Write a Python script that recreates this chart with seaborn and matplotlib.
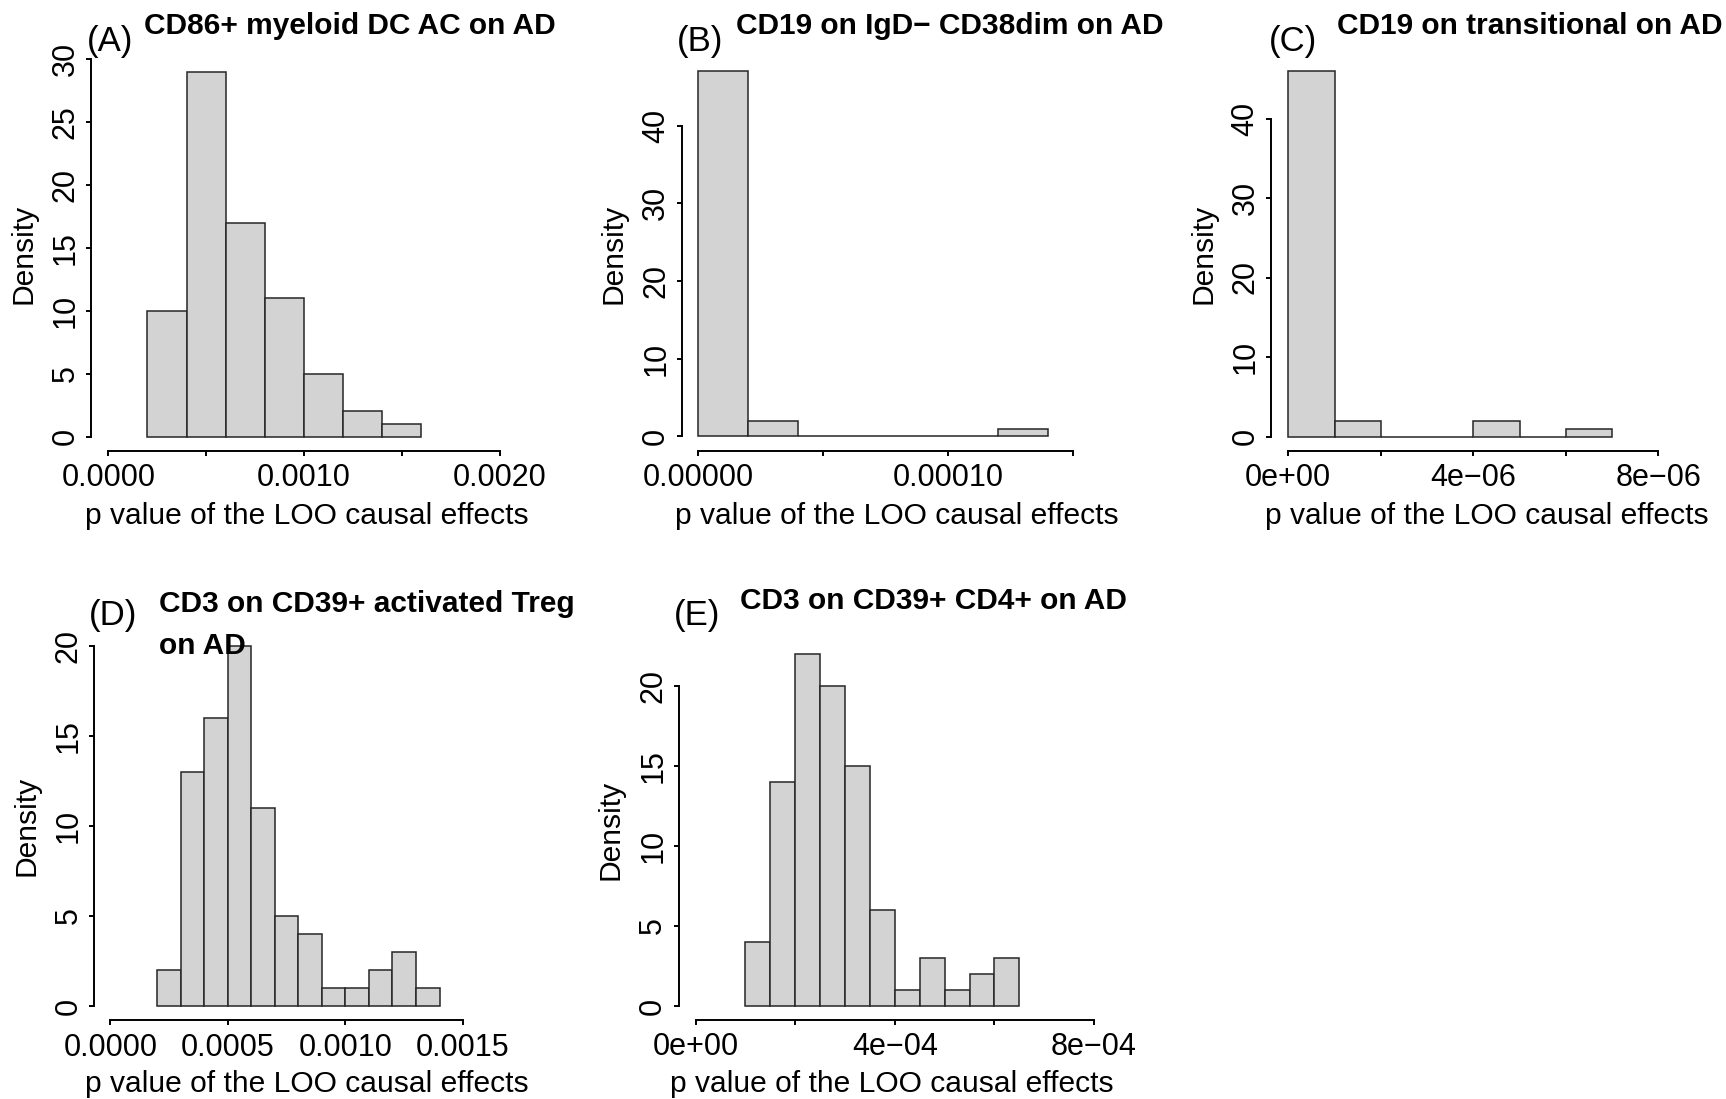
import numpy as np
import pandas as pd
import matplotlib
matplotlib.use("Agg")
import matplotlib.pyplot as plt
import seaborn as sns

# ---------------- data ----------------
a_breaks = [0.0002, 0.0004, 0.0006, 0.0008, 0.0010, 0.0012, 0.0014, 0.0016]
a_density = [10, 29, 17, 11, 5, 2, 1]
a_xticks = [0.0, 0.0005, 0.0010, 0.0015, 0.0020]
a_xticklabels = ["0.0000", "", "0.0010", "", "0.0020"]
a_yticks = [0, 5, 10, 15, 20, 25, 30]
a_title = "CD86+ myeloid DC AC on AD"

b_breaks = [0.0, 0.00002, 0.00004, 0.00006, 0.00008, 0.00010, 0.00012, 0.00014]
b_density = [47, 2, 0, 0, 0, 0, 1]
b_xticks = [0.0, 0.00005, 0.00010, 0.00015]
b_xticklabels = ["0.00000", "", "0.00010", ""]
b_yticks = [0, 10, 20, 30, 40]
b_title = "CD19 on IgD\u2212 CD38dim on AD"

c_breaks = [0.0, 1e-6, 2e-6, 3e-6, 4e-6, 5e-6, 6e-6, 7e-6]
c_density = [46, 2, 0, 0, 2, 0, 1]
c_xticks = [0.0, 2e-6, 4e-6, 6e-6, 8e-6]
c_xticklabels = ["0e+00", "", "4e\u221206", "", "8e\u221206"]
c_yticks = [0, 10, 20, 30, 40]
c_title = "CD19 on transitional on AD"

d_breaks = [0.0002, 0.0003, 0.0004, 0.0005, 0.0006, 0.0007, 0.0008,
            0.0009, 0.0010, 0.0011, 0.0012, 0.0013, 0.0014]
d_density = [2, 13, 16, 20, 11, 5, 4, 1, 1, 2, 3, 1]
d_xticks = [0.0, 0.0005, 0.0010, 0.0015]
d_xticklabels = ["0.0000", "0.0005", "0.0010", "0.0015"]
d_yticks = [0, 5, 10, 15, 20]
d_title = "CD3 on CD39+ activated Treg\non AD"

e_breaks = [0.00010, 0.00015, 0.00020, 0.00025, 0.00030, 0.00035,
            0.00040, 0.00045, 0.00050, 0.00055, 0.00060, 0.00065]
e_density = [4, 14, 22, 20, 15, 6, 1, 3, 1, 2, 3]
e_xticks = [0.0, 2e-4, 4e-4, 6e-4, 8e-4]
e_xticklabels = ["0e+00", "", "4e\u221204", "", "8e\u221204"]
e_yticks = [0, 5, 10, 15, 20]
e_title = "CD3 on CD39+ CD4+ on AD"

panel_letters = ["(A)", "(B)", "(C)", "(D)", "(E)"]
x_label = "p value of the LOO causal effects"
y_label = "Density"

# ---------------- style ----------------
sns.set_theme(style="ticks")
plt.rcParams["font.family"] = ["Liberation Sans", "DejaVu Sans"]
plt.rcParams["axes.unicode_minus"] = True

W, H = 1726, 1099
fig = plt.figure(figsize=(W / 100, H / 100), dpi=100)
fig.patch.set_facecolor("white")

TICK_FS = 22
LAB_FS = 21.6
TITLE_FS = 21.5
LETTER_FS = 25

# layout (pixels): y-axis x, x-axis y, x-zero px, px per unit x, y-zero px, px per unit y,
# plot-region right px, x-label top px
layouts = [
    dict(yax=91.0, xax=450.5, x0=108.3, sx=195700.0, y0=436.5, sy=12.57, right=523.0,
         xlab_top=501, title_xy=(144, 34.3), letter_xy=(110, 41.3)),
    dict(yax=681.7, xax=450.5, x0=698.3, sx=2.495e6, y0=436.5, sy=7.77, right=1111.5,
         xlab_top=501, title_xy=(735.5, 34.3), letter_xy=(699.6, 41.3)),
    dict(yax=1271.0, xax=450.5, x0=1288.3, sx=4.625e7, y0=436.5, sy=7.95, right=1703.0,
         xlab_top=501, title_xy=(1337, 34.3), letter_xy=(1293, 41.3)),
    dict(yax=94.3, xax=1020.0, x0=110.3, sx=235150.0, y0=1006.0, sy=18.0, right=519.7,
         xlab_top=1070, title_xy=(159.3, 609.3), letter_xy=(113, 616)),
    dict(yax=678.7, xax=1020.0, x0=695.7, sx=497900.0, y0=1006.0, sy=16.0, right=1104.5,
         xlab_top=1070, title_xy=(740, 609.3), letter_xy=(697.5, 616)),
]

panels = [
    (a_breaks, a_density, a_xticks, a_xticklabels, a_yticks, a_title),
    (b_breaks, b_density, b_xticks, b_xticklabels, b_yticks, b_title),
    (c_breaks, c_density, c_xticks, c_xticklabels, c_yticks, c_title),
    (d_breaks, d_density, d_xticks, d_xticklabels, d_yticks, d_title),
    (e_breaks, e_density, e_xticks, e_xticklabels, e_yticks, e_title),
]

for (breaks, dens, xt, xtl, yt, title), L, letter in zip(panels, layouts, panel_letters):
    ymax = max(dens)
    ylo, yhi = -0.04 * ymax, 1.04 * ymax
    top_px = L["y0"] - yhi * L["sy"]
    bottom_px = L["y0"] - ylo * L["sy"]
    xlo = (L["yax"] - L["x0"]) / L["sx"]
    xhi = (L["right"] - L["x0"]) / L["sx"]

    ax = fig.add_axes([L["yax"] / W, 1 - bottom_px / H,
                       (L["right"] - L["yax"]) / W, (bottom_px - top_px) / H])
    ax.set_facecolor("white")

    br = [float(v) for v in breaks]
    mids = [(lo + hi) / 2 for lo, hi in zip(br[:-1], br[1:])]
    df = pd.DataFrame({"p": mids, "w": [float(v) for v in dens]})
    sns.histplot(data=df, x="p", weights="w", bins=br, stat="count", ax=ax,
                 color="#D3D3D3", edgecolor="#262626", linewidth=1.1, alpha=1.0)

    ax.set_xlim(xlo, xhi)
    ax.set_ylim(ylo, yhi)
    ax.set_xticks(xt)
    ax.set_xticklabels(xtl)
    ax.set_yticks(yt)
    ax.set_yticklabels([str(v) for v in yt])
    ax.grid(False)

    sns.despine(ax=ax)
    for s in ("left", "bottom"):
        ax.spines[s].set_linewidth(1.4)
        ax.spines[s].set_color("black")
    ax.spines["left"].set_bounds(yt[0], yt[-1])
    ax.spines["bottom"].set_bounds(xt[0], xt[-1])

    ax.tick_params(axis="both", direction="out", length=3.8, width=1.4,
                   color="black", labelcolor="black", labelsize=TICK_FS)
    ax.tick_params(axis="x", pad=5.0)
    ax.tick_params(axis="y", pad=3.8, labelrotation=90)
    for lbl in ax.get_yticklabels():
        lbl.set_va("center")

    width_px = L["right"] - L["yax"]
    height_px = bottom_px - top_px
    ax.set_xlabel(x_label, fontsize=LAB_FS, color="black")
    ax.xaxis.set_label_coords(0.5, -(L["xlab_top"] - L["xax"]) / height_px)
    ax.xaxis.label.set_va("top")
    ax.set_ylabel(y_label, fontsize=LAB_FS, color="black")
    ax.yaxis.set_label_coords(-54 / width_px, 0.5)

    tx, ty = L["title_xy"]
    if "\n" in title:
        fig.text(tx / W, 1 - (ty - 19.8) / H, title, fontsize=TITLE_FS, fontweight="bold",
                 ha="left", va="top", linespacing=1.68, color="black")
    else:
        fig.text(tx / W, 1 - ty / H, title, fontsize=TITLE_FS, fontweight="bold",
                 ha="left", va="baseline", color="black")
    lx, ly = L["letter_xy"]
    fig.text(lx / W, 1 - ly / H, letter, fontsize=LETTER_FS, ha="center", va="center",
             color="black")

fig.savefig("out.png", dpi=100, facecolor="white")
